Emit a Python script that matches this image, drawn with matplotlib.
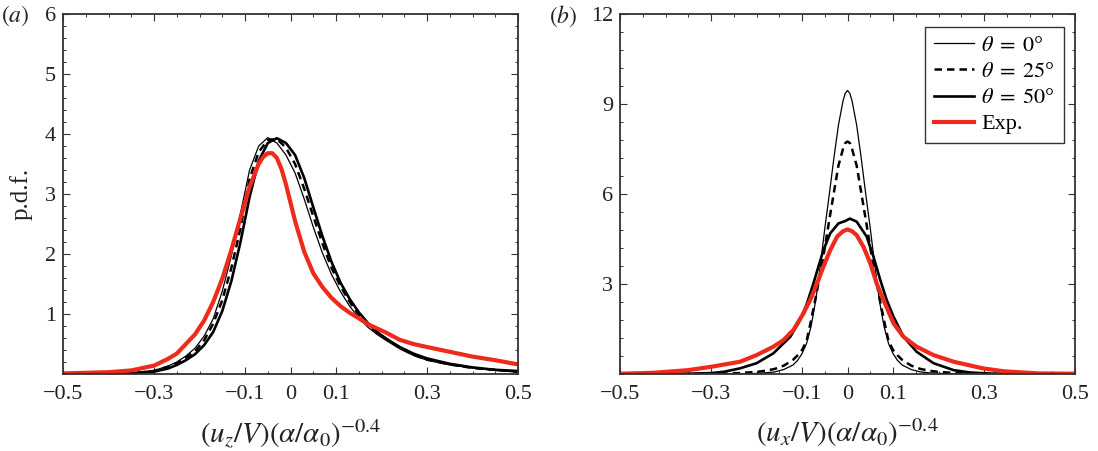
import numpy as np
import matplotlib
matplotlib.use("Agg")
import matplotlib.pyplot as plt
from matplotlib.ticker import MultipleLocator, FixedLocator

plt.rcParams['font.family'] = ['Liberation Serif', 'DejaVu Serif']
plt.rcParams['mathtext.fontset'] = 'stix'

RED = '#ee2a1b'

# ---- panel (a): u_z pdf ----
xa = [-0.5, -0.4, -0.35, -0.3, -0.27, -0.25, -0.23, -0.21, -0.19, -0.17, -0.15, -0.13,
      -0.11, -0.09, -0.07, -0.05, -0.03, -0.01, 0.01, 0.03, 0.05, 0.07, 0.09, 0.11,
      0.13, 0.15, 0.17, 0.19, 0.21, 0.24, 0.27, 0.3, 0.35, 0.4, 0.45, 0.5]
a_th0 = [0.0, 0.0, 0.02, 0.06, 0.13, 0.2, 0.3, 0.43, 0.63, 0.92, 1.38, 1.97,
         2.68, 3.4, 3.8, 3.94, 3.85, 3.65, 3.35, 2.92, 2.45, 2.02, 1.66, 1.37,
         1.13, 0.94, 0.78, 0.66, 0.56, 0.42, 0.31, 0.23, 0.15, 0.1, 0.06, 0.03]
a_th25 = [0.0, 0.0, 0.01, 0.05, 0.12, 0.18, 0.27, 0.38, 0.56, 0.84, 1.23, 1.77,
          2.43, 3.25, 3.7, 3.9, 3.92, 3.77, 3.5, 3.09, 2.63, 2.18, 1.77, 1.46,
          1.2, 0.99, 0.82, 0.7, 0.59, 0.44, 0.32, 0.24, 0.16, 0.1, 0.07, 0.04]
a_th50 = [0.0, 0.0, 0.01, 0.04, 0.09, 0.15, 0.23, 0.33, 0.48, 0.7, 1.05, 1.55,
          2.2, 2.95, 3.55, 3.85, 3.93, 3.85, 3.65, 3.27, 2.78, 2.3, 1.87, 1.52,
          1.25, 1.03, 0.85, 0.7, 0.59, 0.45, 0.34, 0.26, 0.17, 0.11, 0.07, 0.05]
xa_exp = [-0.5, -0.45, -0.4, -0.35, -0.3, -0.27, -0.25, -0.23, -0.21, -0.19, -0.17, -0.15,
          -0.13, -0.11, -0.09, -0.07, -0.06, -0.05, -0.04, -0.03, -0.02, -0.01, 0.01, 0.03,
          0.05, 0.07, 0.09, 0.11, 0.13, 0.15, 0.17, 0.19, 0.21, 0.24, 0.27, 0.3, 0.35,
          0.4, 0.45, 0.5]
a_exp = [0.01, 0.02, 0.03, 0.06, 0.14, 0.25, 0.34, 0.5, 0.66, 0.89, 1.2, 1.59,
         2.07, 2.6, 3.12, 3.5, 3.62, 3.68, 3.68, 3.6, 3.42, 3.16, 2.55, 2.04,
         1.68, 1.45, 1.27, 1.13, 1.02, 0.93, 0.83, 0.76, 0.69, 0.57, 0.5, 0.45, 0.37,
         0.29, 0.23, 0.16]

# ---- panel (b): u_x pdf ----
xb = [-0.5, -0.3, -0.25, -0.2, -0.18, -0.16, -0.14, -0.12, -0.11, -0.1, -0.09, -0.08,
      -0.07, -0.06, -0.05, -0.04, -0.03, -0.02, -0.01, -0.005, 0.0, 0.005, 0.01, 0.02,
      0.03, 0.04, 0.05, 0.06, 0.07, 0.08, 0.09, 0.1, 0.11, 0.12, 0.14, 0.16, 0.18,
      0.2, 0.25, 0.3, 0.5]
b_th0 = [0.0, 0.0, 0.0, 0.02, 0.04, 0.07, 0.15, 0.3, 0.45, 0.68, 1.02, 1.6,
         2.45, 3.6, 4.85, 6.0, 7.2, 8.3, 9.1, 9.36, 9.45, 9.36, 9.1, 8.3,
         7.2, 6.0, 4.85, 3.6, 2.45, 1.6, 1.02, 0.68, 0.45, 0.3, 0.15, 0.07, 0.04,
         0.02, 0.0, 0.0, 0.0]
b_th25 = [0.0, 0.005, 0.02, 0.07, 0.11, 0.17, 0.28, 0.47, 0.62, 0.8, 1.1, 1.8,
          2.55, 3.35, 4.2, 5.15, 6.05, 6.95, 7.5, 7.7, 7.75, 7.7, 7.5, 6.95,
          6.05, 5.15, 4.2, 3.35, 2.55, 1.8, 1.1, 0.8, 0.62, 0.47, 0.28, 0.17, 0.11,
          0.07, 0.02, 0.005, 0.0]
xb50 = [-0.5, -0.35, -0.3, -0.27, -0.236, -0.2, -0.163, -0.126, -0.104, -0.089, -0.075,
        -0.064, -0.053, -0.038, -0.02, -0.005, 0.005, 0.02, 0.042, 0.057, 0.072, 0.086,
        0.101, 0.123, 0.152, 0.189, 0.233, 0.27, 0.32, 0.5]
b_th50 = [0.0, 0.01, 0.03, 0.08, 0.19, 0.36, 0.69, 1.24, 1.8, 2.36, 3.02,
          3.58, 4.13, 4.69, 5.02, 5.1, 5.18, 5.08, 4.58, 3.91, 3.13, 2.47,
          1.91, 1.24, 0.74, 0.36, 0.13, 0.05, 0.01, 0.0]
xb_exp = [-0.5, -0.427, -0.35, -0.3, -0.236, -0.2, -0.163, -0.141, -0.119, -0.097, -0.082,
          -0.067, -0.053, -0.038, -0.023, -0.01, 0.0, 0.01, 0.02, 0.035, 0.05, 0.064, 0.079,
          0.101, 0.123, 0.152, 0.189, 0.233, 0.297, 0.344, 0.42, 0.5]
b_exp = [0.01, 0.04, 0.13, 0.24, 0.41, 0.63, 0.91, 1.13, 1.47, 2.02, 2.47,
         3.02, 3.58, 4.13, 4.58, 4.76, 4.82, 4.76, 4.63, 4.24, 3.69, 3.02, 2.47,
         1.69, 1.24, 0.91, 0.63, 0.41, 0.19, 0.09, 0.02, 0.01]

xticks = [-0.5, -0.3, -0.1, 0, 0.1, 0.3, 0.5]
xticklabels = ['\u22120.5', '\u22120.3', '\u22120.1', '0', '0.1', '0.3', '0.5']

fig = plt.figure(figsize=(10.98, 4.51), dpi=100)
ax1 = fig.add_axes([0.0574, 0.1707, 0.4144, 0.7982])
ax2 = fig.add_axes([0.5647, 0.1707, 0.4144, 0.7982])

def style(ax, ymax, ymaj, ymin):
    ax.set_xlim(-0.5, 0.5)
    ax.set_ylim(0, ymax)
    ax.xaxis.set_major_locator(FixedLocator(xticks))
    ax.set_xticklabels(xticklabels)
    ax.xaxis.set_minor_locator(MultipleLocator(0.05))
    ax.set_yticks(np.arange(ymaj, ymax + 0.01, ymaj))
    ax.yaxis.set_minor_locator(MultipleLocator(ymin))
    ax.tick_params(which='both', direction='in', top=True, right=True,
                   labelsize=16, labelcolor='#222222', color='#333333')
    ax.tick_params(which='major', length=5, width=0.8)
    ax.tick_params(which='minor', length=2.5, width=0.7)
    ax.tick_params(axis='x', pad=8)
    ax.tick_params(axis='y', pad=5)
    for s in ax.spines.values():
        s.set_linewidth(1.3)
        s.set_color('#333333')

ax1.plot(xa, a_th0, color='black', lw=0.9)
ax1.plot(xa, a_th25, color='black', lw=1.8, ls=(0, (3, 2)))
ax1.plot(xa, a_th50, color='black', lw=1.9)
ax1.plot(xa_exp, a_exp, color=RED, lw=3.0)
style(ax1, 6, 1, 0.2)
ax1.set_xlabel(r'$(u_z/V)(\alpha/\alpha_0)^{-0.4}$', fontsize=21, labelpad=9,
               color='#222222')
ax1.set_ylabel('p.d.f.', fontsize=18, labelpad=9, color='#222222')

ax2.plot(xb, b_th0, color='black', lw=0.9, label=r'$\theta\;=\;0$°')
ax2.plot(xb, b_th25, color='black', lw=1.8, ls=(0, (3, 2)), label=r'$\theta\;=\;25$°')
ax2.plot(xb50, b_th50, color='black', lw=1.9, label=r'$\theta\;=\;50$°')
ax2.plot(xb_exp, b_exp, color=RED, lw=3.0, label='Exp.')
style(ax2, 12, 3, 0.6)
ax2.set_xlabel(r'$(u_x/V)(\alpha/\alpha_0)^{-0.4}$', fontsize=21, labelpad=9,
               color='#222222')

leg = ax2.legend(loc='upper right', bbox_to_anchor=(0.975, 0.965), borderaxespad=0,
                 fancybox=False, edgecolor='#333333', framealpha=1, fontsize=16,
                 handlelength=1.8, handletextpad=0.35, labelspacing=0.25, borderpad=0.4)
leg.get_frame().set_linewidth(1.0)

fig.text(0.001, 0.965, r'$(a)$', fontsize=17, va='center', ha='left', color='#222222')
fig.text(0.500, 0.965, r'$(b)$', fontsize=17, va='center', ha='left', color='#222222')

fig.savefig('out.png', dpi=100)
